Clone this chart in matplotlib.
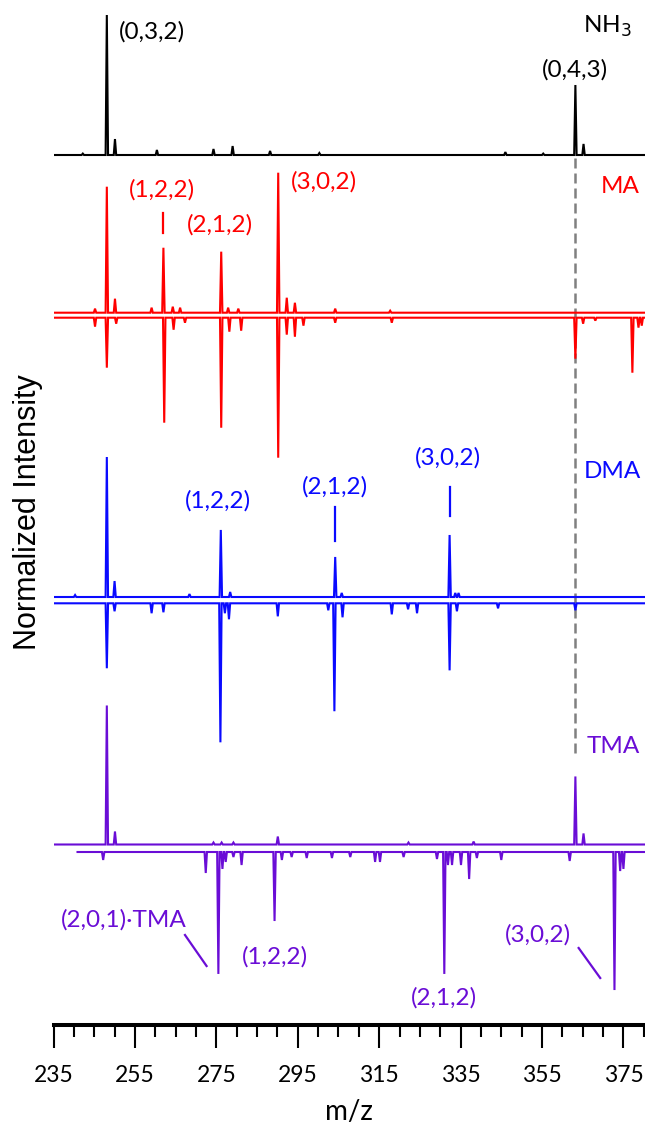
import numpy as np
import matplotlib.pyplot as plt
from matplotlib.ticker import MultipleLocator

# peak lists: m/z and height (1.0 = tallest peak scale)
nh3_mz = [242.2, 248.1, 250.1, 260.4, 274.3, 279.0, 288.2, 300.3, 346.0, 355.3, 363.2, 365.2]
nh3_h = [0.01, 1.0, 0.114, 0.036, 0.043, 0.064, 0.029, 0.014, 0.021, 0.01, 0.5, 0.079]

ma_up_mz = [245.2, 248.1, 250.1, 259.1, 262.0, 264.3, 266.1, 276.2, 277.9, 280.4, 290.2,
            292.3, 294.3, 304.2, 317.7]
ma_up_h = [0.029, 0.9, 0.1, 0.036, 0.464, 0.043, 0.036, 0.436, 0.036, 0.029, 1.0,
           0.107, 0.071, 0.029, 0.014]
ma_dn_mz = [245.2, 248.1, 250.4, 262.2, 264.5, 267.3, 276.2, 278.2, 281.1, 290.2, 292.3,
            294.3, 296.4, 304.2, 318.1, 363.2, 365.1, 368.1, 377.2, 378.7, 379.5]
ma_dn_h = [0.064, 0.357, 0.043, 0.75, 0.086, 0.036, 0.786, 0.1, 0.093, 1.0, 0.121,
           0.136, 0.057, 0.036, 0.036, 0.293, 0.043, 0.021, 0.393, 0.071, 0.057]

dma_up_mz = [240.3, 248.1, 250.0, 268.4, 276.1, 278.4, 304.2, 305.8, 332.3, 333.7, 334.5]
dma_up_h = [0.014, 1.0, 0.114, 0.021, 0.479, 0.036, 0.286, 0.029, 0.443, 0.029, 0.029]
dma_dn_mz = [248.1, 250.0, 259.1, 262.0, 276.0, 277.1, 278.1, 290.1, 302.5, 304.0, 306.0,
             318.1, 322.1, 324.3, 332.3, 334.1, 344.2, 363.2]
dma_dn_h = [0.464, 0.057, 0.071, 0.064, 0.993, 0.071, 0.114, 0.093, 0.05, 0.771, 0.1,
            0.079, 0.043, 0.071, 0.479, 0.057, 0.036, 0.05]

tma_up_mz = [248.1, 250.1, 274.3, 276.3, 279.2, 290.1, 322.2, 338.2, 363.2, 365.2]
tma_up_h = [0.993, 0.093, 0.014, 0.014, 0.014, 0.057, 0.014, 0.021, 0.486, 0.079]
tma_dn_mz = [247.2, 272.4, 275.5, 276.5, 277.3, 279.2, 281.2, 289.3, 291.1, 293.5, 297.2,
             303.4, 307.9, 314.0, 315.2, 321.0, 329.2, 331.0, 331.9, 332.9, 335.1, 337.1,
             339.0, 345.0, 361.8, 372.8, 374.2, 375.0]
tma_dn_h = [0.057, 0.15, 0.871, 0.121, 0.071, 0.036, 0.093, 0.493, 0.057, 0.036, 0.043,
            0.043, 0.036, 0.071, 0.071, 0.036, 0.05, 0.871, 0.093, 0.093, 0.093, 0.193,
            0.043, 0.057, 0.064, 0.986, 0.136, 0.121]

xticks = [235, 255, 275, 295, 315, 335, 355, 375]

W, H = 645, 1138
fig = plt.figure(figsize=(W / 100, H / 100), dpi=100)
ax_bot = 1025
ax = fig.add_axes([53.5 / W, 1 - ax_bot / H, 1 - 53.5 / W, ax_bot / H])
xmin, xmax = 235, 380.3
ax.set_xlim(xmin, xmax)
ax.set_ylim(0, ax_bot / 140)


def ypix(p):
    return (ax_bot - p) / 140


def spectrum(mz, h, base, sign, color, start=xmin, w=0.3):
    xs, ys = [start], [base]
    for m, v in sorted(zip(mz, h)):
        xs += [m - w, m, m + w]
        ys += [base, base + sign * v, base]
    xs.append(xmax)
    ys.append(base)
    ax.plot(xs, ys, color=color, lw=1.5, solid_joinstyle='miter')


black, red, blue, purple = 'black', '#ff0000', '#0a0aff', '#6a0dd6'

# dashed marker through the NH3 (0,4,3) peak
ax.plot([363.2, 363.2], [ypix(158), ypix(757)], color='#808080', lw=1.8, dashes=(4, 2))

spectrum(nh3_mz, nh3_h, ypix(155), 1, black)
spectrum(ma_up_mz, ma_up_h, ypix(312.7), 1, red)
spectrum(ma_dn_mz, ma_dn_h, ypix(317.7), -1, red)
spectrum(dma_up_mz, dma_up_h, ypix(597), 1, blue)
spectrum(dma_dn_mz, dma_dn_h, ypix(603.3), -1, blue)
spectrum(tma_up_mz, tma_up_h, ypix(844.5), 1, purple)
spectrum(tma_dn_mz, tma_dn_h, ypix(852), -1, purple, start=240.9)

lab = dict(fontsize=17.5, family='Lato', ha='center', va='center')
ax.text(259.3, ypix(31.7), '(0,3,2)', color=black, **lab)
ax.text(363.2, ypix(70), '(0,4,3)', color=black, **lab)
ax.text(371.1, ypix(26.7), 'NH$_3$', color=black, **lab)

ax.text(374.2, ypix(186.7), 'MA', color=red, **lab)
ax.text(261.7, ypix(190), '(1,2,2)', color=red, **lab)
ax.text(275.9, ypix(225), '(2,1,2)', color=red, **lab)
ax.text(301.5, ypix(182), '(3,0,2)', color=red, **lab)
ax.plot([262.0, 262.0], [ypix(213), ypix(233)], color=red, lw=1.6)

ax.text(372.2, ypix(471.7), 'DMA', color=blue, **lab)
ax.text(275.5, ypix(501), '(1,2,2)', color=blue, **lab)
ax.text(304.2, ypix(486.7), '(2,1,2)', color=blue, **lab)
ax.text(332.0, ypix(458.3), '(3,0,2)', color=blue, **lab)
ax.plot([304.2, 304.2], [ypix(507), ypix(540.7)], color=blue, lw=1.6)
ax.plot([332.3, 332.3], [ypix(486.7), ypix(516)], color=blue, lw=1.6)

ax.text(372.6, ypix(746.7), 'TMA', color=purple, **lab)
ax.text(252.2, ypix(920), '(2,0,1)·TMA', color=purple, **lab)
ax.text(289.4, ypix(956.7), '(1,2,2)', color=purple, **lab)
ax.text(331.0, ypix(998), '(2,1,2)', color=purple, **lab)
ax.text(353.9, ypix(935), '(3,0,2)', color=purple, **lab)
ax.plot([267.3, 272.6], [ypix(935), ypix(966)], color=purple, lw=1.6)
ax.plot([364.0, 369.3], [ypix(948), ypix(978)], color=purple, lw=1.6)

for s in ['left', 'top', 'right']:
    ax.spines[s].set_visible(False)
ax.spines['bottom'].set_linewidth(2.9)
ax.set_yticks([])
ax.set_xticks(xticks)
ax.xaxis.set_minor_locator(MultipleLocator(5))
ax.tick_params(axis='x', which='major', direction='out', length=16.5, width=1.5, pad=12,
               labelsize=16.5)
ax.tick_params(axis='x', which='minor', direction='out', length=8.5, width=1.5)
for t in ax.get_xticklabels():
    t.set_family('Lato')
ax.set_xlabel('m/z', fontsize=20, family='Lato', labelpad=10)

fig.text(28.3 / W, 1 - 512 / H, 'Normalized Intensity', rotation=90, ha='center',
         va='center', fontsize=22, family='Liberation Sans')

fig.savefig('out.png', dpi=100)
